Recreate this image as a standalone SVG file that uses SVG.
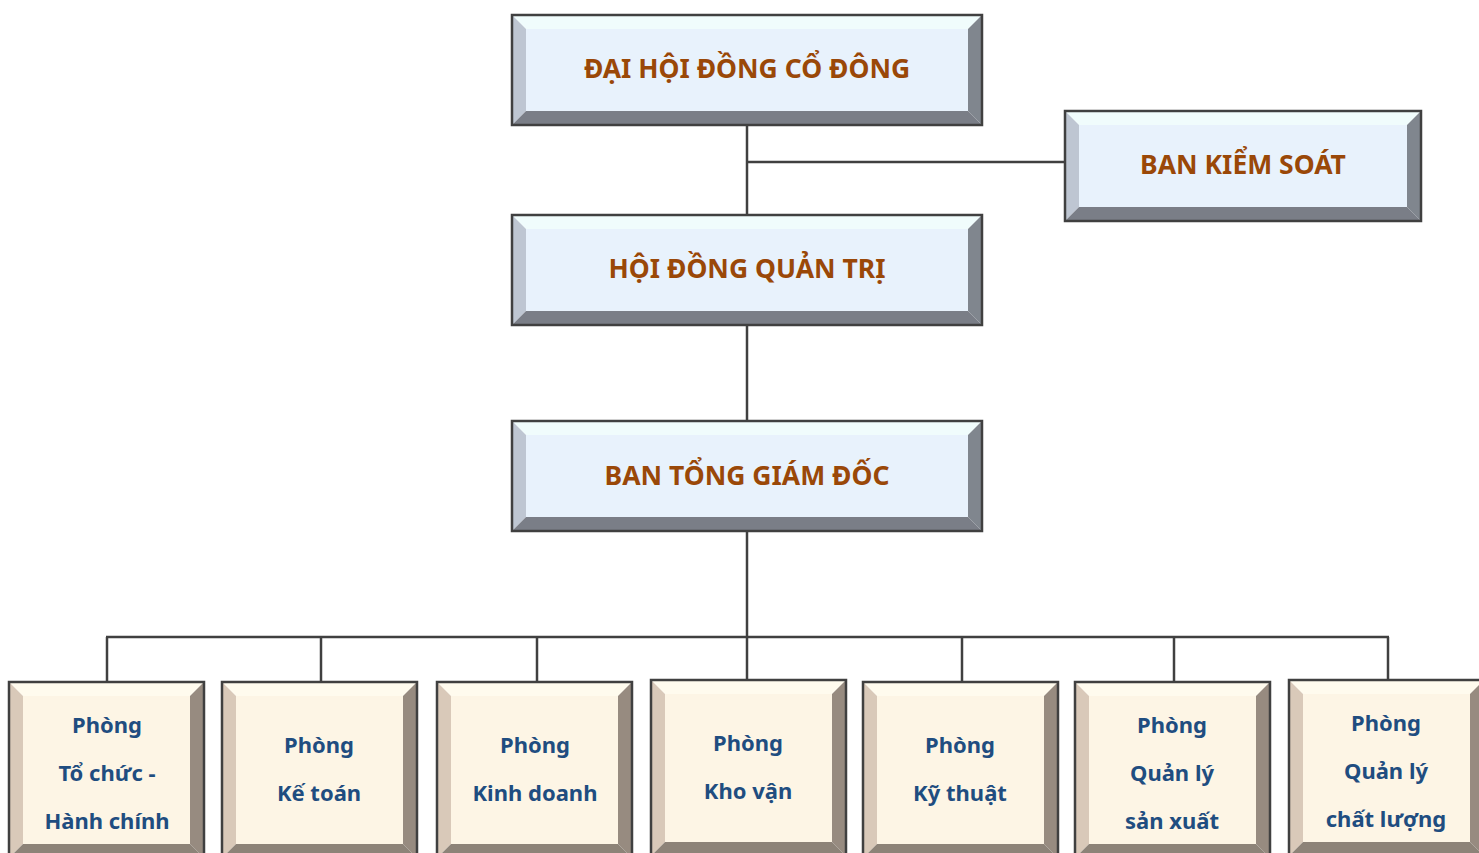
<svg xmlns="http://www.w3.org/2000/svg" xmlns:xlink="http://www.w3.org/1999/xlink" width="1479" height="853" viewBox="0 0 1479 853">
<style>
.bt{fill:#f0fcfc}.bl{fill:#bec6d2}.bc{fill:#e8f2fc}.br{fill:#80868e}.bb{fill:#7a7e87}
.yt{fill:#fffbee}.yl{fill:#d9c9b9}.yc{fill:#fdf5e5}.yr{fill:#978b80}.yb{fill:#8d8378}
.edge{fill:none;stroke:#404040;stroke-width:2.5}
.conn line{stroke:#404040;stroke-width:2.5}
.h{font-family:"Noto Sans","Open Sans",sans-serif;font-weight:bold;font-size:26.5px;fill:#9a4808;text-anchor:middle}
.d{font-family:"Noto Sans","Open Sans",sans-serif;font-weight:bold;font-size:22px;fill:#1f4d80;text-anchor:middle}
</style>
<defs>
<g id="bigBlue">
<rect class="bc" x="14" y="14" width="442" height="82"/>
<polygon class="bt" points="0,0 470,0 456,14 14,14"/>
<polygon class="bl" points="0,0 14,14 14,96 0,110"/>
<polygon class="br" points="470,0 470,110 456,96 456,14"/>
<polygon class="bb" points="0,110 14,96 456,96 470,110"/>
<rect class="edge" x="0" y="0" width="470" height="110"/>
</g>
<g id="bksBlue">
<rect class="bc" x="14" y="14" width="328" height="82"/>
<polygon class="bt" points="0,0 356,0 342,14 14,14"/>
<polygon class="bl" points="0,0 14,14 14,96 0,110"/>
<polygon class="br" points="356,0 356,110 342,96 342,14"/>
<polygon class="bb" points="0,110 14,96 342,96 356,110"/>
<rect class="edge" x="0" y="0" width="356" height="110"/>
</g>
<g id="dept">
<rect class="yc" x="14" y="14" width="167" height="150"/>
<polygon class="yt" points="0,0 195,0 181,14 14,14"/>
<polygon class="yl" points="0,0 14,14 14,162 0,176"/>
<polygon class="yr" points="195,0 195,176 181,162 181,14"/>
<polygon class="yb" points="0,176 14,162 181,162 195,176"/>
<rect class="edge" x="0" y="0" width="195" height="176"/>
</g>
</defs>
<g id="connectors" class="conn">
<line x1="747" y1="124" x2="747" y2="214"/>
<line x1="747" y1="162" x2="1065" y2="162"/>
<line x1="747" y1="325" x2="747" y2="421"/>
<line x1="747" y1="531" x2="747" y2="637"/>
<line x1="106" y1="637" x2="1389" y2="637"/>
<line x1="107" y1="637" x2="107" y2="682"/>
<line x1="321" y1="637" x2="321" y2="682"/>
<line x1="537" y1="637" x2="537" y2="682"/>
<line x1="747" y1="637" x2="747" y2="680"/>
<line x1="962" y1="637" x2="962" y2="682"/>
<line x1="1174" y1="637" x2="1174" y2="682"/>
<line x1="1388" y1="637" x2="1388" y2="680"/>
</g>
<g id="dhdcd"><use xlink:href="#bigBlue" x="512" y="15"/><text class="h" x="747" y="78">ĐẠI HỘI ĐỒNG CỔ ĐÔNG</text></g>
<g id="bks"><use xlink:href="#bksBlue" x="1065" y="111"/><text class="h" x="1243" y="174">BAN KIỂM SOÁT</text></g>
<g id="hdqt"><use xlink:href="#bigBlue" x="512" y="215"/><text class="h" x="747" y="278">HỘI ĐỒNG QUẢN TRỊ</text></g>
<g id="btgd"><use xlink:href="#bigBlue" x="512" y="421"/><text class="h" x="747" y="485">BAN TỔNG GIÁM ĐỐC</text></g>
<g id="p1"><use xlink:href="#dept" x="9" y="682"/><text class="d" x="107" y="733">Phòng</text><text class="d" x="107" y="781">Tổ chức -</text><text class="d" x="107" y="829">Hành chính</text></g>
<g id="p2"><use xlink:href="#dept" x="222" y="682"/><text class="d" x="319" y="753">Phòng</text><text class="d" x="319" y="801">Kế toán</text></g>
<g id="p3"><use xlink:href="#dept" x="437" y="682"/><text class="d" x="535" y="753">Phòng</text><text class="d" x="535" y="801">Kinh doanh</text></g>
<g id="p4"><use xlink:href="#dept" x="651" y="680"/><text class="d" x="748" y="751">Phòng</text><text class="d" x="748" y="799">Kho vận</text></g>
<g id="p5"><use xlink:href="#dept" x="863" y="682"/><text class="d" x="960" y="753">Phòng</text><text class="d" x="960" y="801">Kỹ thuật</text></g>
<g id="p6"><use xlink:href="#dept" x="1075" y="682"/><text class="d" x="1172" y="733">Phòng</text><text class="d" x="1172" y="781">Quản lý</text><text class="d" x="1172" y="829">sản xuất</text></g>
<g id="p7"><use xlink:href="#dept" x="1289" y="680"/><text class="d" x="1386" y="731">Phòng</text><text class="d" x="1386" y="779">Quản lý</text><text class="d" x="1386" y="827">chất lượng</text></g>
</svg>
